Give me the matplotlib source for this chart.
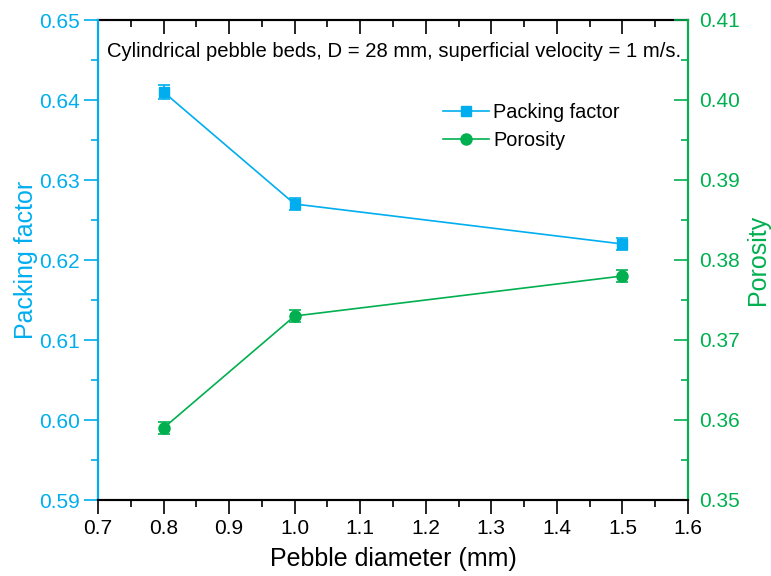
import matplotlib
matplotlib.use("Agg")
import matplotlib.pyplot as plt
from matplotlib.ticker import MultipleLocator, FormatStrFormatter
from matplotlib.lines import Line2D

plt.rcParams['font.family'] = ['Liberation Sans', 'DejaVu Sans']

diameter = [0.8, 1.0, 1.5]
packing_factor = [0.641, 0.627, 0.622]
packing_err = [0.0009, 0.0008, 0.0008]
porosity = [0.359, 0.373, 0.378]
porosity_err = [0.0008, 0.0008, 0.0008]

blue = '#00AEEF'
green = '#00B050'

fig = plt.figure(figsize=(7.71, 5.76), dpi=100)
ax = fig.add_axes([98/771, 1-500/576, (688-98)/771, (500-20)/576])
ax2 = ax.twinx()

ax.errorbar(diameter, packing_factor, yerr=packing_err, color=blue, marker='s',
            markersize=7, lw=1.2, capsize=4, elinewidth=1.2, capthick=1.2, zorder=3)
ax2.errorbar(diameter, porosity, yerr=porosity_err, color=green, marker='o',
             markersize=8, lw=1.2, capsize=4, elinewidth=1.2, capthick=1.2, zorder=3)

ax.set_xlim(0.7, 1.6)
ax.set_ylim(0.59, 0.65)
ax2.set_ylim(0.35, 0.41)

ax.xaxis.set_major_locator(MultipleLocator(0.1))
ax.xaxis.set_minor_locator(MultipleLocator(0.05))
ax.xaxis.set_major_formatter(FormatStrFormatter('%.1f'))
ax.yaxis.set_major_locator(MultipleLocator(0.01))
ax.yaxis.set_minor_locator(MultipleLocator(0.005))
ax.yaxis.set_major_formatter(FormatStrFormatter('%.2f'))
ax2.yaxis.set_major_locator(MultipleLocator(0.01))
ax2.yaxis.set_minor_locator(MultipleLocator(0.005))
ax2.yaxis.set_major_formatter(FormatStrFormatter('%.2f'))

# Bottom axis: outward ticks; top: inward mirrored ticks
ax.tick_params(axis='x', which='major', direction='out', length=10, width=1.2,
               labelsize=15, pad=4, top=False)
ax.tick_params(axis='x', which='minor', direction='out', length=5, width=1.2, top=False)
secx = ax.secondary_xaxis('top')
secx.xaxis.set_major_locator(MultipleLocator(0.1))
secx.xaxis.set_minor_locator(MultipleLocator(0.05))
secx.tick_params(axis='x', which='major', direction='in', length=10, width=1.2, labeltop=False)
secx.tick_params(axis='x', which='minor', direction='in', length=5, width=1.2)
secx.spines['top'].set_linewidth(1.5)

ax.tick_params(axis='y', which='major', direction='out', length=10, width=1.2,
               colors=blue, labelsize=15, pad=3, right=False)
ax.tick_params(axis='y', which='minor', direction='out', length=5, width=1.2,
               colors=blue, right=False)
ax2.tick_params(axis='y', which='major', direction='in', length=10, width=1.2,
                colors=green, labelsize=15, pad=8)
ax2.tick_params(axis='y', which='minor', direction='in', length=5, width=1.2, colors=green)

for a in (ax, ax2):
    a.spines['left'].set_color(blue)
    a.spines['right'].set_color(green)
    for s in a.spines.values():
        s.set_linewidth(1.5)
ax2.spines['top'].set_visible(False)

ax.set_xlabel('Pebble diameter (mm)', fontsize=18, labelpad=6)
ax.set_ylabel('Packing factor', fontsize=18, color=blue, labelpad=1)
ax2.set_ylabel('Porosity', fontsize=18, color=green, labelpad=4)

ax.text(0.015, 0.935, 'Cylindrical pebble beds, D = 28 mm, superficial velocity = 1 m/s.',
        transform=ax.transAxes, fontsize=14.6, ha='left', va='center')

handles = [
    Line2D([], [], color=blue, marker='s', markersize=7, lw=1.2),
    Line2D([], [], color=green, marker='o', markersize=8, lw=1.2),
]
ax2.legend(handles, ['Packing factor', 'Porosity'], loc='upper left',
           bbox_to_anchor=(0.555, 0.865), frameon=False, fontsize=14.3,
           handlelength=2.3, handletextpad=0.2, labelspacing=0.45)

fig.savefig('out.png', dpi=100)
